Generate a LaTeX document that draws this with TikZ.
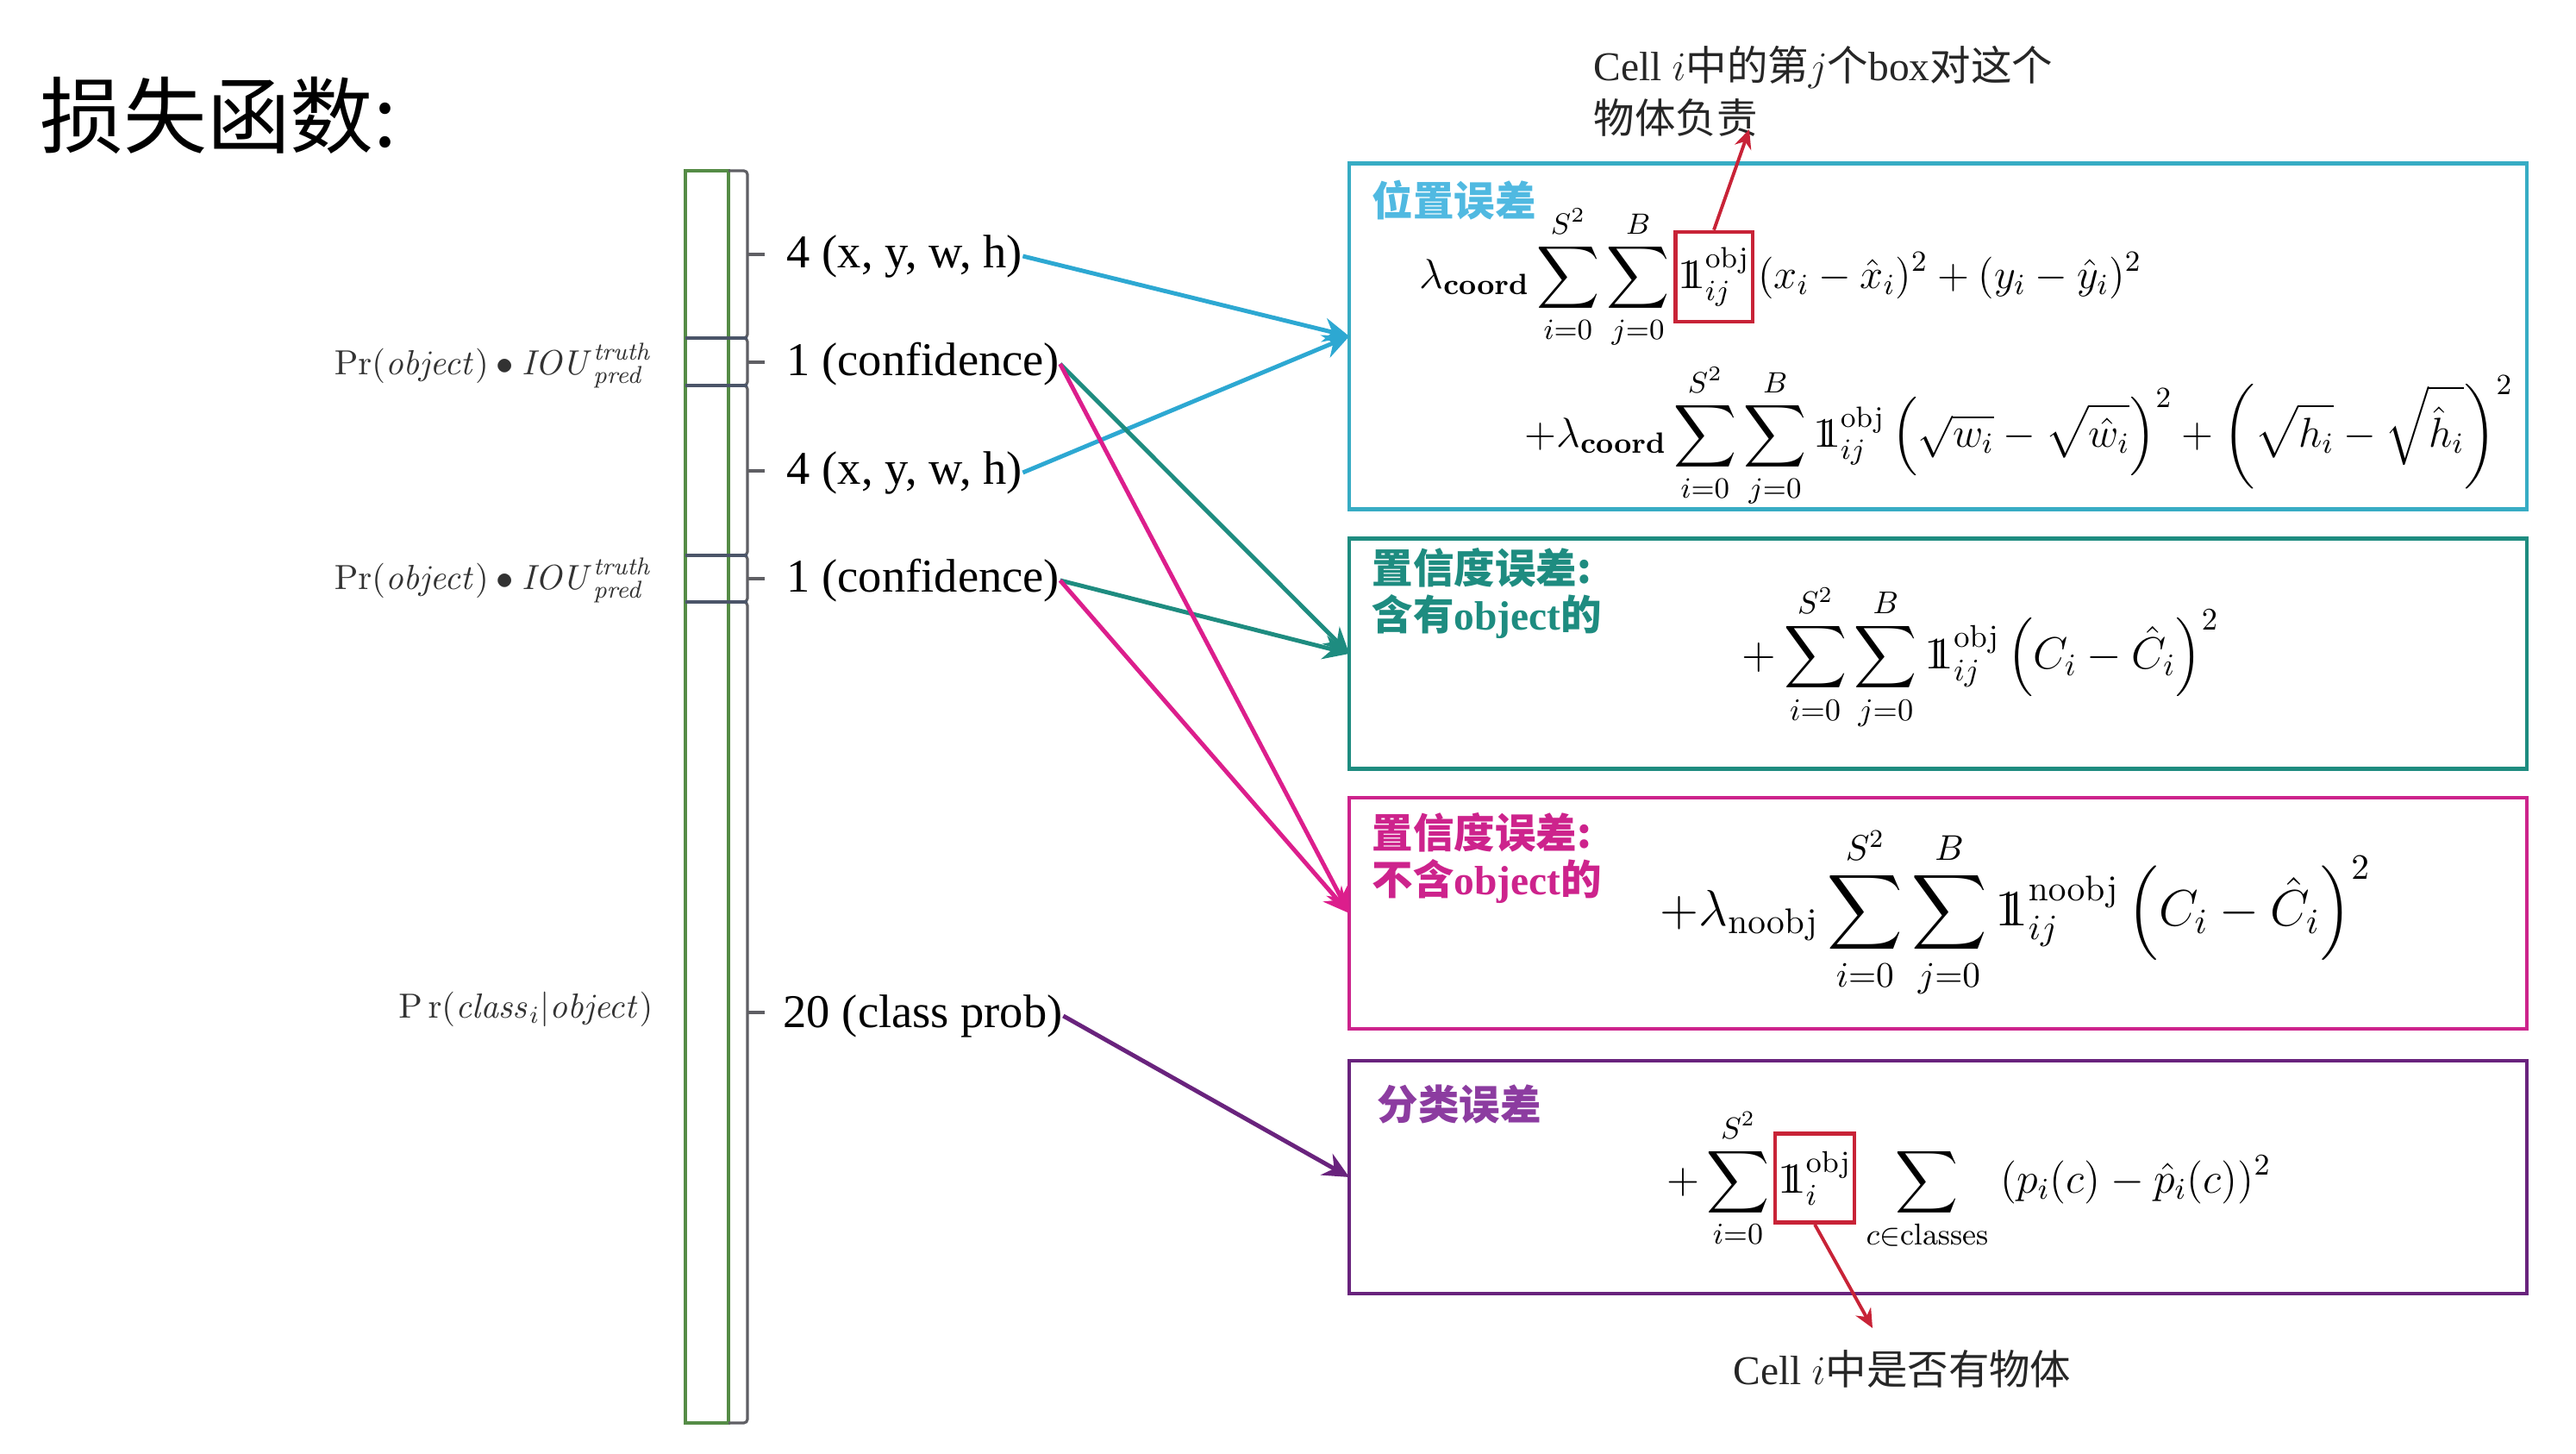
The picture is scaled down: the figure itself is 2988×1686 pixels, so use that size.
\RequirePackage{fix-cm}
\documentclass[tikz,border=0pt]{standalone}
\usepackage{amsmath}
\usepackage[no-math]{fontspec}
\setmainfont{Liberation Serif}
\newfontfamily\cjk{Noto Sans CJK SC}
\usetikzlibrary{arrows.meta}
\definecolor{cyanbox}{RGB}{55,172,196}
\definecolor{cyanarr}{RGB}{45,168,210}
\definecolor{cyantxt}{RGB}{80,185,225}
\definecolor{tealc}{RGB}{30,140,128}
\definecolor{magc}{RGB}{205,35,140}
\definecolor{magarr}{RGB}{220,30,140}
\definecolor{purc}{RGB}{105,35,125}
\definecolor{purtxt}{RGB}{140,60,160}
\definecolor{redc}{RGB}{200,35,55}
\definecolor{barg}{RGB}{85,140,70}
\definecolor{brk}{RGB}{95,95,100}
\definecolor{sepc}{RGB}{75,85,105}
\definecolor{lblc}{RGB}{50,50,50}
\newcommand{\one}{\mathrm{1\!\!1}}
\newcommand{\fs}[1]{\fontsize{#1}{#1}\selectfont}
\begin{document}
\begin{tikzpicture}[x=0.01cm,y=-0.01cm,
  lossbox/.style={draw, line width=1.3pt, minimum width=13.65cm, outer sep=0pt, inner sep=0pt},
  flow/.style={line width=1.4pt, -{Stealth[length=3mm,width=2.8mm]}},
  vlabel/.style={anchor=west, inner sep=0pt, font=\fs{15.5}},
  plabel/.style={anchor=east, inner sep=0pt, text=lblc, font=\fs{11.5}},
  formula/.style={anchor=west, inner sep=0pt, font=\fs{13.8}},
  boxtitle/.style={anchor=west, inner sep=0pt, font=\cjk\bfseries\fontsize{13.5}{15.6}\selectfont, align=left},
  note/.style={anchor=west, inner sep=0pt, font=\fontsize{13.5}{17.4}\selectfont, text=black!85, align=left},
  redbox/.style={draw=redc, line width=1.3pt, inner sep=1pt},
  redarrow/.style={draw=redc, line width=1.1pt, -{Stealth[length=2.2mm,width=2mm]}},
  sepline/.style={draw=sepc, line width=1.2pt},
  bracket/.style={draw=brk, line width=0.9pt, rounded corners=1.2pt},
]
\fill[white] (0,0) rectangle (2988,1686);
\useasboundingbox (0,0) rectangle (2988,1686);

% title
\node[anchor=west, inner sep=0pt, font=\cjk\fs{27.5}] (title) at (46,134) {损失函数:};

% output vector bar
\draw[barg, line width=1.1pt] (795,198) rectangle (845,1650);
\foreach \a/\b in {198/392, 392/447, 447/644, 644/698, 698/1650}{
  \draw[bracket] (845,\a) -- (867,\a) -- (867,\b) -- (845,\b);
}
\foreach \y in {392,447,644,698}{
  \draw[sepline] (795,\y) -- (867,\y);
}
\foreach \y in {295,420,546,671,1174}{
  \draw[brk, line width=1pt] (867,\y) -- (887,\y);
}

% value labels
\node[vlabel] (l1) at (912,297) {4 (x, y, w, h)};
\node[vlabel] (l2) at (912,422) {1 (confidence)};
\node[vlabel] (l3) at (912,548) {4 (x, y, w, h)};
\node[vlabel] (l4) at (912,673) {1 (confidence)};
\node[vlabel] (l5) at (908,1178) {20 (class prob)};

% probability labels
\node[plabel] (p1) at (758,424) {$\mathrm{Pr}(\mathit{object})\bullet\mathit{IOU}^{\mathit{truth}}_{\mathit{pred}}$};
\node[plabel] (p2) at (758,673) {$\mathrm{Pr}(\mathit{object})\bullet\mathit{IOU}^{\mathit{truth}}_{\mathit{pred}}$};
\node[plabel] (p3) at (758,1170) {$\mathrm{P\,r}(\mathit{class}_i|\mathit{object})$};

% loss boxes
\node[lossbox, draw=cyanbox, minimum height=4.01cm] (b1) at (2248,390) {};
\node[lossbox, draw=tealc, minimum height=2.67cm] (b2) at (2248,758) {};
\node[lossbox, draw=magc, minimum height=2.68cm] (b3) at (2248,1059) {};
\node[lossbox, draw=purc, minimum height=2.70cm] (b4) at (2248,1365) {};

% box titles
\node[boxtitle, text=cyantxt] (t1) at (1591,232) {位置误差};
\node[boxtitle, text=tealc] (t2) at (1591,688) {置信度误差:\\含有{\rmfamily\bfseries object}的};
\node[boxtitle, text=magc] (t3) at (1591,995) {置信度误差:\\不含{\rmfamily\bfseries object}的};
\node[boxtitle, text=purtxt] (t4) at (1597,1280) {分类误差};

% box 1 formulas
\node[redbox, font=\fs{13.8}, minimum width=0.81cm, minimum height=1.04cm] (r1) at (1988,321) {$\one^{\mathrm{obj}}_{ij}$};
\node[anchor=base east, inner sep=0pt, font=\fs{13.8}] (f1a) at ([xshift=-1pt]r1.base west) {$\displaystyle\lambda_{\mathbf{coord}}\sum_{i=0}^{S^2}\sum_{j=0}^{B}$};
\node[anchor=base west, inner sep=0pt, font=\fs{13.8}] (f1c) at ([xshift=1pt]r1.base east) {$\displaystyle(x_i-\hat{x}_i)^2+(y_i-\hat{y}_i)^2$};
\node[formula] (f2) at (1768,505) {$\displaystyle+\lambda_{\mathbf{coord}}\sum_{i=0}^{S^2}\sum_{j=0}^{B}\one^{\mathrm{obj}}_{ij}\left(\sqrt{w_i}-\sqrt{\hat{w}_i}\right)^2+\left(\sqrt{h_i}-\sqrt{\hat{h}_i}\right)^2$};

% box 2 formula
\node[formula, font=\fs{14.8}] (f3) at (2020,762) {$\displaystyle+\sum_{i=0}^{S^2}\sum_{j=0}^{B}\one^{\mathrm{obj}}_{ij}\left(C_i-\hat{C}_i\right)^2$};

% box 3 formula
\node[formula, font=\fs{16.8}] (f4) at (1925,1058) {$\displaystyle+\lambda_{\mathrm{noobj}}\sum_{i=0}^{S^2}\sum_{j=0}^{B}\one^{\mathrm{noobj}}_{ij}\left(C_i-\hat{C}_i\right)^2$};

% box 4 formula
\node[redbox, font=\fs{14.2}, minimum width=0.90cm, minimum height=1.03cm] (r2) at (2105,1366) {$\one^{\mathrm{obj}}_{i}$};
\node[anchor=base east, inner sep=0pt, font=\fs{14.2}] (f5a) at ([xshift=-1pt]r2.base west) {$\displaystyle+\sum_{i=0}^{S^2}$};
\node[anchor=base west, inner sep=0pt, font=\fs{14.2}] (f5c) at ([xshift=3pt]r2.base east) {$\displaystyle\sum_{c\in\mathrm{classes}}\;(p_i(c)-\hat{p}_i(c))^2$};

% annotations
\node[note] (c1) at (1848,106) {Cell $i${\cjk 中的第}$j${\cjk 个}box{\cjk 对这个}\\{\cjk 物体负责}};
\node[note] (c2) at (2010,1587) {Cell $i${\cjk 中是否有物体}};
\coordinate (n1) at (2029,150);
\coordinate (n2) at (2172,1540);
\draw[redarrow] (r1.north) -- (n1);
\draw[redarrow] (r2.south) -- (n2);

% connectors
\draw[flow, cyanarr] (l1.east) -- (b1.west);
\draw[flow, cyanarr] (l3.east) -- (b1.west);
\draw[flow, tealc] (l2.east) -- (b2.west);
\draw[flow, tealc] (l4.east) -- (b2.west);
\draw[flow, magarr] (l2.east) -- (b3.west);
\draw[flow, magarr] (l4.east) -- (b3.west);
\draw[flow, purc] (l5.east) -- (b4.west);
\end{tikzpicture}
\end{document}
